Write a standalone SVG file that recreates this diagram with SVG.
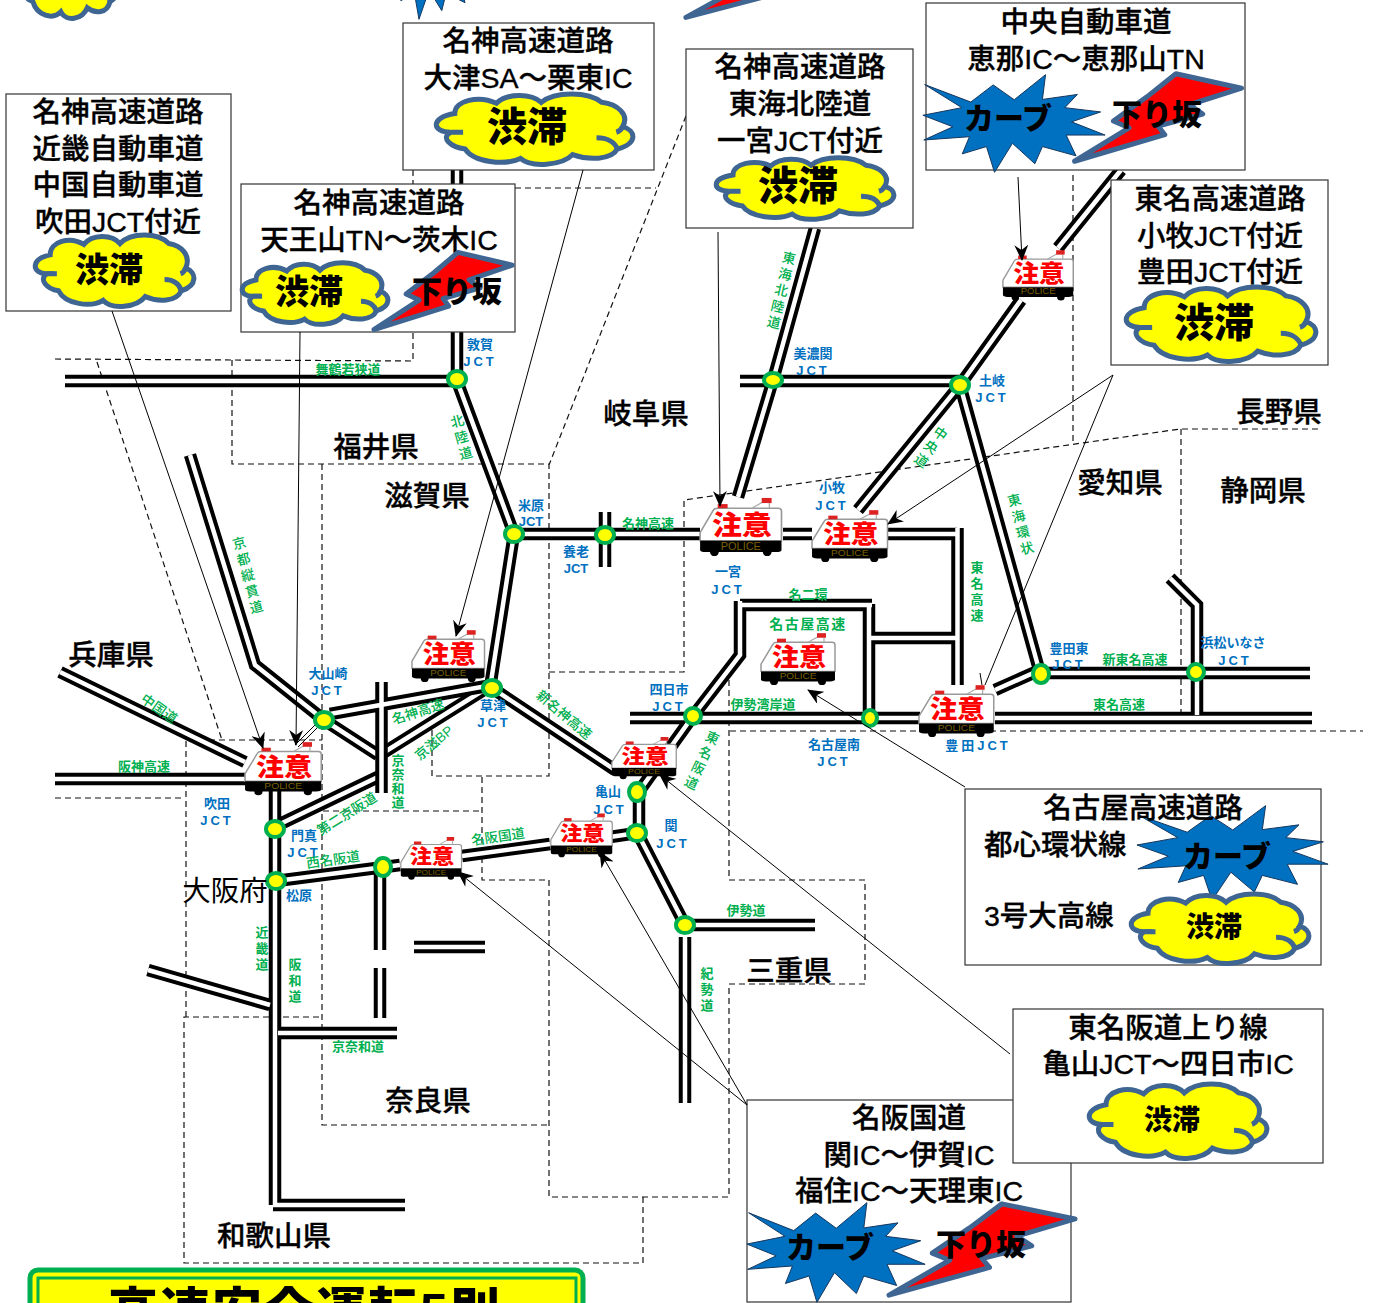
<svg xmlns="http://www.w3.org/2000/svg" width="1377" height="1303" viewBox="0 0 1377 1303">
<style>
text{font-family:"Liberation Sans","Noto Sans CJK JP",sans-serif;text-anchor:middle;dominant-baseline:central}
.t{font-size:28.5px;font-weight:500;fill:#000;stroke:#000;stroke-width:.35}
.l{text-anchor:start}
.p{font-size:28.5px;font-weight:500;fill:#000;stroke:#000;stroke-width:.35}
.big{font-size:40px;font-weight:900;fill:#000}
.mid{font-size:28px;font-weight:900;fill:#000}
.warn{font-size:30px;font-weight:900;fill:#000}
.g{font-size:13px;font-weight:700;fill:#00b050}
.gr{font-size:13.5px;font-weight:500;fill:#00b050}
.b{font-size:13px;font-weight:700;fill:#0070c0}
.j{letter-spacing:3px}
.v{writing-mode:vertical-rl;letter-spacing:3px;text-anchor:start}
.box{fill:#fff;stroke:#333;stroke-width:1.2}
.rb{fill:none;stroke:#000;stroke-width:12.5}
.rw{fill:none;stroke:#fff;stroke-width:4.5}
.d{fill:none;stroke:#111;stroke-width:1.2;stroke-dasharray:6 4}
.ld{fill:none;stroke:#000;stroke-width:1;marker-end:url(#ah)}
.ln{fill:none;stroke:#000;stroke-width:1}
.n{fill:#ff0;stroke:#00b050;stroke-width:4}
.cs{vector-effect:non-scaling-stroke}
.w{font-size:27px;font-weight:900;fill:#f00}
.pol{font-size:10px;font-weight:400;fill:#7a6000}
</style>
<defs>
<marker id="ah" markerUnits="userSpaceOnUse" markerWidth="18" markerHeight="14" refX="15" refY="7" orient="auto"><path d="M0 0L16 7L0 14L5 7Z" fill="#000"/></marker>
<symbol id="cloud" viewBox="4 2 189 76" preserveAspectRatio="none" overflow="visible">
<path class="cs" d="M22 24C22 10 45 4 62 13C72 2 95 2 105 12C118 0 150 0 163 12C178 14 190 25 183 38C196 42 198 56 178 62C172 74 150 74 135 68C125 80 95 82 85 72C70 80 40 76 32 62C18 60 8 50 18 44C0 44-2 28 22 24Z" fill="#ff0" stroke="#3f6593" stroke-width="5"/>
<path class="cs" d="M158 50C170 50 176 56 178 62M18 44C22 44 26 44 30 44M183 38C182 41 180 43 177 44" fill="none" stroke="#3f6593" stroke-width="5"/>
</symbol>
<symbol id="star" viewBox="546 220 411 300" preserveAspectRatio="none">
<path class="cs" d="M552 252L655 305L705 253L752 298L822 222L815 297L893 282L865 322L945 335L880 365L955 405L868 405L890 468L815 440L798 492L748 430L708 518L690 440L636 462L652 410L550 420L615 380L548 345L635 322Z" fill="#0070c0" stroke="#17375e" stroke-width="1"/>
</symbol>
<symbol id="bolt" viewBox="880 220 392 270" preserveAspectRatio="none">
<path class="cs" d="M1115 228L1262 270L1145 318L1175 345L1075 380L1090 405L888 482L1010 385L975 365L1050 295Z" fill="#f00" stroke="#3f6593" stroke-width="5" stroke-linejoin="round"/>
</symbol>
<symbol id="car" viewBox="0 -3 76 60" overflow="visible">
<path d="M1 40L1 32L13 10Q14 8 17 8L72 8Q75 8 75 11L75 40Z" fill="#fff" stroke="#999" stroke-width="1.5"/>
<rect x="17" y="4" width="9" height="4" fill="#d22"/>
<path d="M48 8L58 2M64 3V8" stroke="#aaa" stroke-width="1.2" fill="none"/>
<rect x="57" y="-2" width="9" height="5" fill="#d22"/>
<path d="M1 40H75V49Q75 51 70 51H6Q1 51 1 49Z" fill="#000"/>
<circle cx="14" cy="51" r="4" fill="#000"/><circle cx="62" cy="51" r="4" fill="#000"/>
</symbol>
</defs>
<g id="fragments">
<use href="#cloud" x="18" y="-60" width="100" height="78"/>
<use href="#star" x="378" y="-80" width="104" height="100"/>
<use href="#bolt" x="682" y="-70" width="190" height="90"/>
</g>
<g id="connectors">
<g id="borders">
<path class="d" d="M55 359L413 361V332M413 170V184M515 188H656M686 116L549 465M232 360V464H549V776H432V725M549 672H684V500L1180 429H1318M1181 429V718M1073 175V441M730 731H1363M729 680V880H865V984H729V1197H549V880H482V776M323 811H482M643 1197V1263H184V1017H322M186 1017V740H322M322 464V1125H549M97 362L222 740M55 798H185"/>
</g>
<g id="roads">
<path class="rb" d="M65 381H457M457 170V184M457 332V381L514 534M514 534L490 688M514 534H700M740 381H960M815 228L773 380L738 497M1121 170L1058 248M1021 300L960 385L858 510M960 385L1040 673M1040 673H1310M995 718H1312M995 690L1040 670M1197 715V605L1170 578M740 605H872M867 638H957M869 604V716M740 601V655L693 716L640 790M630 718H920M783 534H812M888 534H957M957.5 528V685M487 688L383 753M324 720L378 755M492 688L615 770M190 455L255 665L324 720M60 672L245 762M55 779H245M275 790V1205M276 881L400 865M462 856L550 844M610 837L637 833M380 870V950M380 968V1018M414 947H485M148 970L270 1005M278 1033H397M273 1205H405M639 795V830M637 832L685 925H815M685 937V1103M278 825L382 775M605 512V567"/>
<path class="rw" d="M65 381H457M457 170V184M457 332V381L514 534M514 534L490 688M514 534H700M740 381H960M815 228L773 380L738 497M1121 170L1058 248M1021 300L960 385L858 510M960 385L1040 673M1040 673H1310M995 718H1312M995 690L1040 670M1197 715V605L1170 578M740 605H872M867 638H957M869 604V716M740 601V655L693 716L640 790M630 718H920M783 534H812M888 534H957M957.5 528V685M487 688L383 753M324 720L378 755M492 688L615 770M190 455L255 665L324 720M60 672L245 762M55 779H245M275 790V1205M276 881L400 865M462 856L550 844M610 837L637 833M380 870V950M380 968V1018M414 947H485M148 970L270 1005M278 1033H397M273 1205H405M639 795V830M637 832L685 925H815M685 937V1103M278 825L382 775M605 512V567"/>
<path class="rb" d="M330 714L487 686M381.500 682V793"/>
<path class="rw" d="M330 714L487 686M381.500 682V793"/>
<path class="ln" d="M315 725L295 745M318 727L298 747"/>
</g>
</g>
<g id="junctions">
<ellipse class="n" cx="457" cy="379" rx="9" ry="8"/><ellipse class="n" cx="773" cy="380" rx="9" ry="7"/><ellipse class="n" cx="960" cy="385" rx="9" ry="8"/><ellipse class="n" cx="514" cy="534" rx="9" ry="8"/><ellipse class="n" cx="605" cy="535" rx="9" ry="8"/><ellipse class="n" cx="492" cy="688" rx="9" ry="8"/><ellipse class="n" cx="324" cy="720" rx="9" ry="8"/><ellipse class="n" cx="1041" cy="674" rx="8" ry="9"/><ellipse class="n" cx="1196" cy="672" rx="8" ry="8"/><ellipse class="n" cx="693" cy="716" rx="8" ry="8"/><ellipse class="n" cx="870" cy="718" rx="7" ry="8"/><ellipse class="n" cx="637" cy="792" rx="8" ry="9"/><ellipse class="n" cx="637" cy="833" rx="9" ry="8"/><ellipse class="n" cx="685" cy="925" rx="9" ry="8"/><ellipse class="n" cx="275" cy="829" rx="9" ry="8"/><ellipse class="n" cx="276" cy="881" rx="9" ry="8"/><ellipse class="n" cx="383" cy="867" rx="8" ry="9"/>
</g>
<g id="car1" transform="translate(699 500) scale(1.1 1.02)"><use href="#car" y="-3" width="76" height="60"/><text class="w" x="39" y="25">注意</text><text class="pol" x="38" y="45">POLICE</text></g>
<g id="car2" transform="translate(811 512) scale(1.02 .91)"><use href="#car" y="-3" width="76" height="60"/><text class="w" x="39" y="25">注意</text><text class="pol" x="38" y="45">POLICE</text></g>
<g id="car3" transform="translate(1002 252) scale(.95 .88)"><use href="#car" y="-3" width="76" height="60"/><text class="w" x="39" y="25">注意</text><text class="pol" x="38" y="45">POLICE</text></g>
<g id="car4" transform="translate(411 632) scale(.98 .91)"><use href="#car" y="-3" width="76" height="60"/><text class="w" x="39" y="25">注意</text><text class="pol" x="38" y="45">POLICE</text></g>
<g id="car5" transform="translate(244 744) scale(1.03 .93)"><use href="#car" y="-3" width="76" height="60"/><text class="w" x="39" y="25">注意</text><text class="pol" x="38" y="45">POLICE</text></g>
<g id="car6" transform="translate(760 635) scale(1 .91)"><use href="#car" y="-3" width="76" height="60"/><text class="w" x="39" y="25">注意</text><text class="pol" x="38" y="45">POLICE</text></g>
<g id="car7" transform="translate(918 687) scale(1.01 .91)"><use href="#car" y="-3" width="76" height="60"/><text class="w" x="39" y="25">注意</text><text class="pol" x="38" y="45">POLICE</text></g>
<g id="car8" transform="translate(611 738.500) scale(.87 .74)"><use href="#car" y="-3" width="76" height="60"/><text class="w" x="39" y="25">注意</text><text class="pol" x="38" y="45">POLICE</text></g>
<g id="car9" transform="translate(550 815) scale(.83 .77)"><use href="#car" y="-3" width="76" height="60"/><text class="w" x="39" y="25">注意</text><text class="pol" x="38" y="45">POLICE</text></g>
<g id="car10" transform="translate(400 838.500) scale(.82 .75)"><use href="#car" y="-3" width="76" height="60"/><text class="w" x="39" y="25">注意</text><text class="pol" x="38" y="45">POLICE</text></g>
<g id="labels">
<text class="p" x="646" y="414">岐阜県</text><text class="p" x="376" y="447">福井県</text><text class="p" x="427" y="496">滋賀県</text><text class="p" x="1279" y="412">長野県</text><text class="p" x="1120" y="483">愛知県</text><text class="p" x="1263" y="491">静岡県</text><text class="p" x="111" y="655">兵庫県</text><text class="p" style="font-weight:400;stroke-width:0" x="225" y="891">大阪府</text><text class="p" x="789" y="971">三重県</text><text class="p" x="428" y="1101">奈良県</text><text class="p" x="274" y="1236">和歌山県</text>
<text class="b" x="480" y="344">敦賀</text><text class="b j" x="480" y="361">JCT</text>
<text class="b" x="531" y="505">米原</text><text class="b" x="531" y="521">JCT</text>
<text class="b" x="576" y="551">養老</text><text class="b" x="576" y="568">JCT</text>
<text class="b" x="728" y="571">一宮</text><text class="b j" x="728" y="589">JCT</text>
<text class="b" x="832" y="487">小牧</text><text class="b j" x="832" y="505">JCT</text>
<text class="b" x="992" y="380">土岐</text><text class="b j" x="992" y="397">JCT</text>
<text class="b" x="813" y="353">美濃関</text><text class="b j" x="813" y="370">JCT</text>
<text class="b" x="669" y="689">四日市</text><text class="b j" x="669" y="706">JCT</text>
<text class="b" x="834" y="744">名古屋南</text><text class="b j" x="834" y="761">JCT</text>
<text class="b j" x="978" y="745">豊田JCT</text>
<text class="b" x="1069" y="648">豊田東</text><text class="b j" x="1069" y="664">JCT</text>
<text class="b" x="1233" y="642">浜松いなさ</text><text class="b j" x="1235" y="660">JCT</text>
<text class="b" x="608" y="791">亀山</text><text class="b j" x="610" y="809">JCT</text>
<text class="b" x="671" y="825">関</text><text class="b j" x="673" y="843">JCT</text>
<text class="b" x="493" y="705">草津</text><text class="b j" x="494" y="722">JCT</text>
<text class="b" x="328" y="673">大山崎</text><text class="b j" x="328" y="690">JCT</text>
<text class="b" x="217" y="803">吹田</text><text class="b j" x="217" y="820">JCT</text>
<text class="b" x="304" y="835">門真</text><text class="b j" x="304" y="852">JCT</text>
<text class="b" x="299" y="895">松原</text>
<text class="g" x="348" y="369">舞鶴若狭道</text><text class="g" x="648" y="523">名神高速</text><text class="g" x="808" y="594">名二環</text><text class="g" style="font-size:14px;letter-spacing:1.500px" x="808" y="624">名古屋高速</text><text class="g" x="763" y="704">伊勢湾岸道</text><text class="g" x="1119" y="704">東名高速</text><text class="g" x="1135" y="659">新東名高速</text><text class="g" x="746" y="910">伊勢道</text><text class="g" x="144" y="766">阪神高速</text><text class="g" x="358" y="1046">京奈和道</text>
<text class="gr" transform="rotate(40 564 715)" x="564" y="715">新名神高速</text><text class="gr" transform="rotate(-18 418 712)" x="418" y="712">名神高速</text><text class="gr" transform="rotate(-40 434 743)" x="434" y="743">京滋BP</text><text class="gr" transform="rotate(35 159 709)" x="159" y="709">中国道</text><text class="gr" transform="rotate(-32 347 814)" x="347" y="814">第二京阪道</text><text class="gr" transform="rotate(-8 333 860)" x="333" y="860">西名阪道</text><text class="gr" transform="rotate(-8 498 837)" x="498" y="837">名阪国道</text>
<text class="gr v" transform="rotate(-15 454 415)" x="454" y="415">北陸道</text>
<text class="gr v" transform="rotate(13 789 251)" x="789" y="251">東海北陸道</text>
<text class="gr v" transform="rotate(35 943 427)" x="943" y="427">中央道</text>
<text class="gr v" transform="rotate(-15 1011 494)" x="1011" y="494">東海環状</text>
<text class="g v" x="976" y="561">東名高速</text>
<text class="gr v" transform="rotate(25 714 731)" x="714" y="731">東名阪道</text>
<text class="g v" x="706" y="967">紀勢道</text>
<text class="gr v" transform="rotate(-15 236 537)" x="236" y="537">京都縦貫道</text>
<text class="g v" style="letter-spacing:1px" x="397" y="754">京奈和道</text>
<text class="g v" x="261" y="926">近畿道</text>
<text class="g v" x="294" y="958">阪和道</text>
</g>
<g id="callout-suita"><rect class="box" x="6" y="94" width="225" height="217"/><text class="t" x="118" y="112">名神高速道路</text><text class="t" x="118" y="149">近畿自動車道</text><text class="t" x="118" y="185">中国自動車道</text><text class="t" x="118" y="222">吹田JCT付近</text><use href="#cloud" x="35" y="234" width="159" height="72"/><text class="mid" style="font-size:34px" x="109" y="270">渋滞</text></g>
<g id="callout-tennozan"><rect class="box" x="241" y="184" width="274" height="148"/><text class="t" x="379" y="203">名神高速道路</text><text class="t" x="379" y="240">天王山TN～茨木IC</text><use href="#cloud" x="242" y="262" width="146" height="62"/><text class="mid" style="font-size:34px" x="309" y="292">渋滞</text><use href="#bolt" x="371" y="250" width="145" height="82"/><text class="warn" x="457" y="291">下り坂</text></g>
<g id="callout-otsu"><rect class="box" x="403" y="23" width="251" height="147"/><text class="t" x="528" y="41">名神高速道路</text><text class="t" x="528" y="78">大津SA～栗東IC</text><use href="#cloud" x="436" y="93" width="197" height="71"/><text class="big" x="527" y="127">渋滞</text></g>
<g id="callout-ichinomiya"><rect class="box" x="686" y="49" width="227" height="179"/><text class="t" x="800" y="67">名神高速道路</text><text class="t" x="800" y="104">東海北陸道</text><text class="t" x="800" y="141">一宮JCT付近</text><use href="#cloud" x="716" y="157" width="178" height="62"/><text class="big" x="798" y="186">渋滞</text></g>
<g id="callout-ena"><rect class="box" x="926" y="3" width="319" height="167"/><text class="t" x="1086" y="22">中央自動車道</text><text class="t" x="1086" y="59">恵那IC～恵那山TN</text><use href="#star" x="922" y="74" width="184" height="99"/><text class="warn" x="1008" y="118">カーブ</text><use href="#bolt" x="1071" y="71" width="175" height="93"/><text class="warn" x="1157" y="114">下り坂</text></g>
<g id="callout-komaki"><rect class="box" x="1111" y="180" width="217" height="185"/><text class="t" x="1220" y="199">東名高速道路</text><text class="t" x="1220" y="236">小牧JCT付近</text><text class="t" x="1220" y="272">豊田JCT付近</text><use href="#cloud" x="1126" y="286" width="190" height="75"/><text class="big" x="1214" y="323">渋滞</text></g>
<g id="callout-nagoya"><rect class="box" x="965" y="789" width="356" height="176"/><use href="#star" x="1136" y="805" width="193" height="96"/><text class="t" x="1143" y="808">名古屋高速道路</text><text class="t l" x="984" y="845">都心環状線</text><text class="t l" x="984" y="916">3号大高線</text><text class="warn" x="1227" y="856">カーブ</text><use href="#cloud" x="1131" y="893" width="178" height="70"/><text class="mid" x="1214" y="927">渋滞</text></g>
<g id="callout-meihan"><rect class="box" x="747" y="1100" width="324" height="202"/><text class="t" x="909" y="1118">名阪国道</text><text class="t" x="909" y="1155">関IC～伊賀IC</text><text class="t" x="909" y="1191">福住IC～天理東IC</text><use href="#star" x="746" y="1202" width="180" height="101"/><text class="warn" x="830" y="1247">カーブ</text><use href="#bolt" x="885" y="1201" width="195" height="97"/><text class="warn" x="981" y="1244">下り坂</text></g>
<g id="callout-kameyama"><rect class="box" x="1013" y="1009" width="310" height="154"/><text class="t" x="1168" y="1028">東名阪道上り線</text><text class="t" x="1168" y="1064">亀山JCT～四日市IC</text><use href="#cloud" x="1089" y="1083" width="178" height="75"/><text class="mid" x="1172" y="1120">渋滞</text></g>
<g id="leaders">
<path class="ld" d="M112 311L263 748"/><path class="ld" d="M300 332L296 745"/><path class="ld" d="M583 170L456 636"/><path class="ld" d="M718 232L720 506"/><path class="ld" d="M1018 177L1022 260"/><path class="ld" d="M1113 375L888 524"/><path class="ln" d="M1113 375L985 685M980 673L982 685"/><path class="ld" d="M965 787L808 690"/><path class="ld" d="M1010 1054L660 775"/><path class="ld" d="M747 1105L600 852"/><path class="ld" d="M747 1105L458 872"/>
</g>
<g id="title"><rect x="30" y="1270" width="553" height="60" rx="8" fill="#ff0" stroke="#00b050" stroke-width="5"/><rect x="38" y="1278" width="538" height="50" fill="none" stroke="#00b050" stroke-width="3"/><text x="305" y="1312" style="font-size:50px;font-weight:900;letter-spacing:2px">高速安全運転5則</text></g>
</svg>
